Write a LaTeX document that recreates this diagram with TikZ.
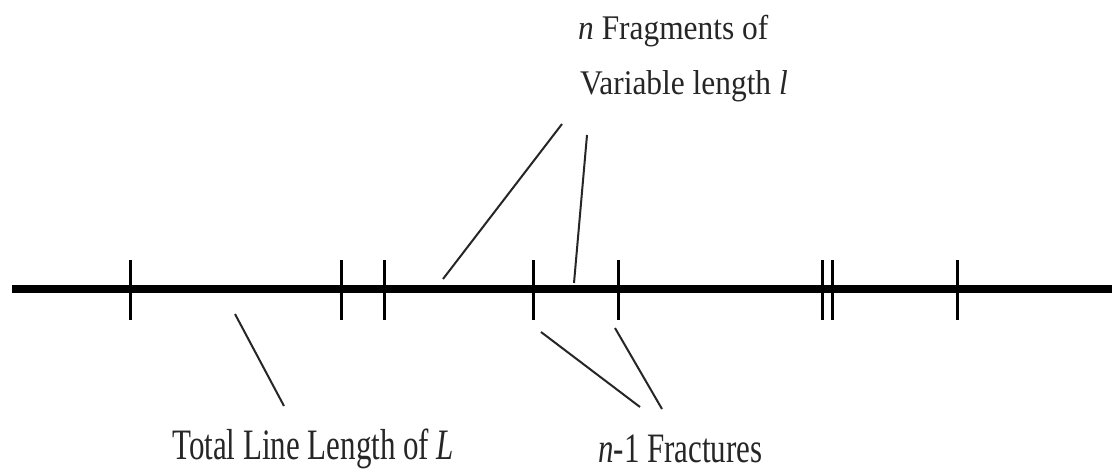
\documentclass[tikz,border=0pt]{standalone}
\usepackage{fontspec}
\usepackage{graphicx}
\setmainfont{Liberation Serif}
\tikzset{
  mainline/.style={line width=8pt, black},
  tick/.style={line width=3pt, black},
  pointer/.style={line width=2pt, black!85},
  lbltop/.style={anchor=base west, inner sep=0pt, text=black!85, font=\fontsize{31.4}{36}\selectfont},
  lblbot/.style={anchor=base west, inner sep=0pt, text=black!85, font=\fontsize{31}{36}\selectfont}
}
\begin{document}
\begin{tikzpicture}[x=1pt,y=-1pt]
\useasboundingbox[fill=white] (0,0) rectangle (1115,472);
% main line
\coordinate (L0) at (12,289);
\coordinate (L1) at (1112,289);
\draw[mainline] (L0) -- (L1);
% fracture ticks
\foreach \x/\n in {130/t1,341/t2,384/t3,533/t4,618/t5,822/t6,832/t7,957/t8}{
  \coordinate (\n a) at (\x,260);
  \coordinate (\n b) at (\x,320);
  \draw[tick] (\n a) -- (\n b);
}
% labels
\node[lbltop] (frag1) at (578,39) {\scalebox{1}[1.1]{\textit{n} Fragments of}};
\node[lbltop] (frag2) at (580,94) {\scalebox{1}[1.1]{Variable length \textit{l}}};
\node[lblbot] (total) at (172,459) {\scalebox{1}[1.4]{Total Line Length of \textit{L}}};
\node[lblbot] (fract) at (598,462) {\scalebox{1}[1.35]{\textit{n}-1 Fractures}};
% pointer end points
\coordinate (pA1) at (562,124); \coordinate (pA2) at (443,279);
\coordinate (pB1) at (587,135); \coordinate (pB2) at (574,283);
\coordinate (pC1) at (235,314); \coordinate (pC2) at (284,406);
\coordinate (pD1) at (541,332); \coordinate (pD2) at (640,407);
\coordinate (pE1) at (615,328); \coordinate (pE2) at (662,409);
\draw[pointer] (pA1) -- (pA2);
\draw[pointer] (pB1) -- (pB2);
\draw[pointer] (pC1) -- (pC2);
\draw[pointer] (pD1) -- (pD2);
\draw[pointer] (pE1) -- (pE2);
\end{tikzpicture}
\end{document}
